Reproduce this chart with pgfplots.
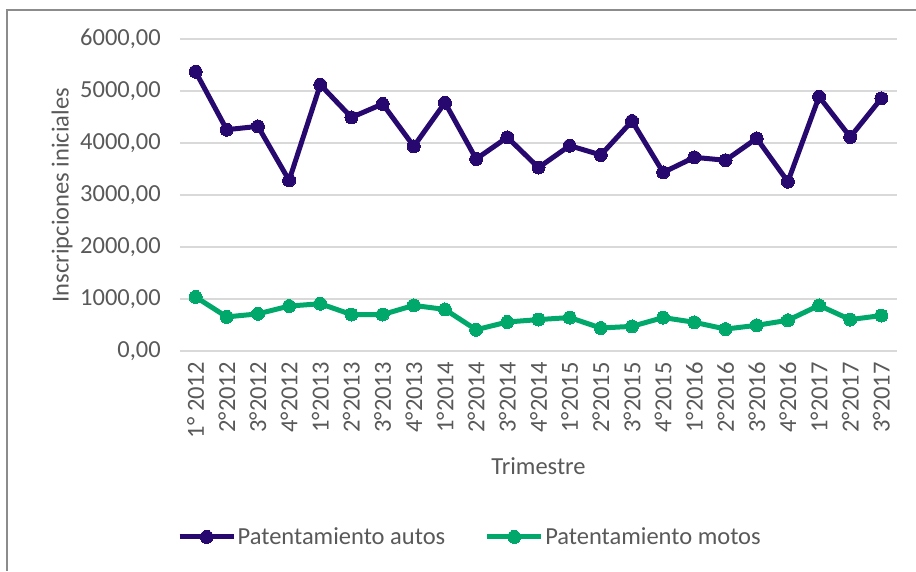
\documentclass[border=0pt]{standalone}
\usepackage{fontspec}
\setmainfont{Carlito}
\usepackage{pgfplots}
\pgfplotsset{compat=1.18}
\definecolor{autos}{HTML}{26086E}
\definecolor{motos}{HTML}{00A96B}
\definecolor{txt}{HTML}{595959}
\definecolor{gridc}{HTML}{D9D9D9}
\definecolor{border}{HTML}{8C8C8C}
\newcommand{\cf}{\fontsize{24.5}{29}\selectfont}
\begin{document}
\begin{tikzpicture}
\useasboundingbox (0pt,0pt) rectangle (916pt,571pt);
\draw[border, line width=2pt] (7pt,0pt) -- (7pt,561pt) -- (916pt,561pt);
\begin{axis}[
  at={(180pt,220pt)}, anchor=south west,
  scale only axis, width=717pt, height=312pt,
  xmin=-0.5, xmax=22.5, ymin=0, ymax=6000,
  clip=false,
  axis line style={draw=none},
  tick style={draw=none},
  ymajorgrids, grid style={gridc, line width=1.4pt},
  ytick={0,1000,...,6000},
  xtick={0,...,22},
  xticklabels={1° 2012,2°2012,3°2012,4°2012,1°2013,2°2013,3°2013,4°2013,1°2014,2°2014,3°2014,4°2014,1°2015,2°2015,3°2015,4°2015,1°2016,2°2016,3°2016,4°2016,1°2017,2°2017,3°2017},
  /pgf/number format/.cd, fixed, fixed zerofill, precision=2, use comma, 1000 sep={}, assume math mode=true,
  /pgfplots/.cd,
  yticklabel style={font=\cf, text=txt, anchor=east, inner sep=0pt},
  yticklabel shift=19pt,
  xticklabel style={font=\cf, text=txt, rotate=90, anchor=east, inner sep=0pt},
  xticklabel shift=11pt,
  every axis y label/.style={at={(axis description cs:-0.1646,0.5)}, rotate=90, anchor=center, font=\cf, text=txt},
  every axis x label/.style={at={(axis description cs:0.5,-0.3686)}, anchor=center, font=\cf, text=txt},
  ylabel={Inscripciones iniciales},
  xlabel={Trimestre},
  legend columns=2,
  legend style={at={(axis description cs:-0.0084,-0.596)}, anchor=west, draw=none, fill=none,
    font=\cf, text=txt, nodes={inner sep=1.5pt},
    /tikz/every even column/.append style={column sep=38pt}},
  legend image code/.code={\draw[mark repeat=2,mark phase=2,#1] plot coordinates {(0pt,0pt) (27pt,0pt) (54pt,0pt)};},
]
\addplot[autos, line width=5pt, mark=*, mark size=6.5pt, mark options={solid, fill=autos, line width=0pt}] coordinates {
(0,5371) (1,4256) (2,4320) (3,3281) (4,5121) (5,4492) (6,4751) (7,3936) (8,4776) (9,3693) (10,4109) (11,3527)
(12,3949) (13,3770) (14,4422) (15,3434) (16,3725) (17,3668) (18,4089) (19,3256) (20,4891) (21,4115) (22,4859)};
\addlegendentry{Patentamiento autos}
\addplot[motos, line width=5pt, mark=*, mark size=6.5pt, mark options={solid, fill=motos, line width=0pt}] coordinates {
(0,1039) (1,656) (2,714) (3,864) (4,909) (5,701) (6,701) (7,877) (8,799) (9,409) (10,558) (11,604)
(12,643) (13,442) (14,474) (15,643) (16,552) (17,422) (18,494) (19,591) (20,877) (21,604) (22,682)};
\addlegendentry{Patentamiento motos}
\end{axis}
\end{tikzpicture}
\end{document}
